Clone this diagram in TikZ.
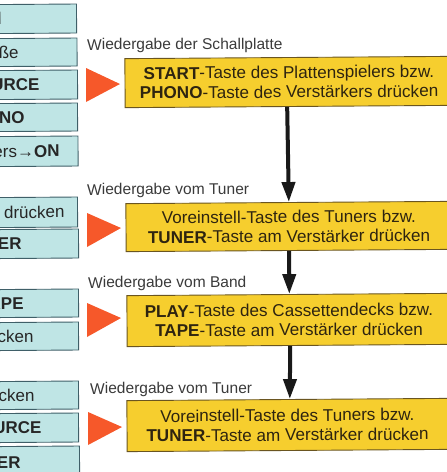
\documentclass[tikz,border=0pt]{standalone}
\usepackage{fontspec}
\setmainfont{Liberation Sans}
\usetikzlibrary{arrows.meta}
\definecolor{tealfill}{HTML}{BFE5E5}
\definecolor{tealedge}{HTML}{3F5F68}
\definecolor{goldfill}{HTML}{F6CE2E}
\definecolor{goldedge}{HTML}{6A5520}
\definecolor{inktext}{HTML}{2E2410}
\definecolor{flag}{HTML}{F6582A}
\definecolor{greytext}{HTML}{3A3A3A}
\tikzset{
  bluebox/.style={draw=tealedge,fill=tealfill,line width=0.9pt,rotate=0.4,anchor=east,inner xsep=0pt,inner ysep=0pt,
    text=black!85,font=\fontsize{17}{20}\selectfont,text height=11.5pt,text depth=0pt},
  yellowbox/.style={draw=goldedge,fill=goldfill,line width=0.9pt,rotate=0.4,inner ysep=0pt,
    align=center,text=inktext,font=\fontsize{17.1}{19.5}\selectfont},
  caption/.style={anchor=base west,inner sep=0pt,text=greytext,font=\fontsize{15.55}{18}\selectfont,rotate=0.3},
  flow/.style={line width=4pt,draw=black!90,-{Triangle[width=13pt,length=20pt]},shorten >=0pt},
  pointer/.style={fill=flag,draw=none}
}
% name, top, bottom, right edge, text end, text
\newcommand{\tealbox}[6]{%
  \pgfmathsetmacro{\mybw}{#4+30}\pgfmathsetmacro{\mygap}{#4-#5}\pgfmathsetmacro{\mymid}{(#2+#3)/2}\pgfmathsetmacro{\myht}{#3-#2}%
  \node[bluebox,minimum height=\myht pt] (#1) at (#4,\mymid) {\makebox[\mybw pt][r]{#6\hspace{\mygap pt}}};}
\begin{document}
\begin{tikzpicture}[x=1pt,y=-1pt]
\useasboundingbox (0,0) rectangle (447,472);
\clip (0,0) rectangle (447,472);
\tealbox{a}{4}{33}{77}{2}{l}
\tealbox{b}{38}{66}{77.5}{19}{ße}
\tealbox{c}{70}{99}{78}{40}{\textbf{URCE}}
\tealbox{d}{103}{131}{78}{25}{\textbf{NO}}
\tealbox{e}{136}{166}{78.5}{60}{ers→\textbf{ON}}
\tealbox{f}{197}{227}{78}{65}{drücken}
\tealbox{g}{229}{258}{79}{22}{\textbf{ER}}
\tealbox{h}{289}{317}{79}{24}{\textbf{APE}}
\tealbox{i}{322}{350}{79}{34}{cken}
\tealbox{j}{381}{409}{79}{35}{cken}
\tealbox{k}{413}{442}{79}{42}{\textbf{URCE}}
\tealbox{l}{446}{478}{80}{21}{\textbf{ER}}

\fill[pointer] (86,68) -- (86,102) -- (120,84) -- cycle;
\fill[pointer] (87,213) -- (87,247) -- (121,228) -- cycle;
\fill[pointer] (87,303) -- (87,337) -- (121,318) -- cycle;
\fill[pointer] (88,412) -- (88,445) -- (122,427) -- cycle;

\node[caption] (cap1) at (87,50) {Wiedergabe der Schallplatte};
\node[caption] (cap2) at (87,195) {Wiedergabe vom Tuner};
\node[caption] (cap3) at (88,288) {Wiedergabe vom Band};
\node[caption] (cap4) at (90,394) {Wiedergabe vom Tuner};

\node[yellowbox,minimum width=328pt,minimum height=49pt] (s1) at (289,82) {\textbf{START}-Taste des Plattenspielers bzw.\\\textbf{PHONO}-Taste des Verstärkers drücken};
\node[yellowbox,minimum width=326pt,minimum height=48pt] (s2) at (289,226.5) {Voreinstell-Taste des Tuners bzw.\\\textbf{TUNER}-Taste am Verstärker drücken};
\node[yellowbox,minimum width=324pt,minimum height=51pt] (s3) at (289,320) {\textbf{PLAY}-Taste des Cassettendecks bzw.\\\textbf{TAPE}-Taste am Verstärker drücken};
\node[yellowbox,minimum width=321pt,minimum height=51pt] (s4) at (287.5,425) {Voreinstell-Taste des Tuners bzw.\\\textbf{TUNER}-Taste am Verstärker drücken};

\draw[flow] ([xshift=-2pt]s1.south) -- (s2.north);
\draw[flow] (s2.south) -- ([xshift=0.5pt]s3.north);
\draw[flow] ([xshift=1pt]s3.south) -- ([xshift=2.5pt]s4.north);
\end{tikzpicture}
\end{document}
